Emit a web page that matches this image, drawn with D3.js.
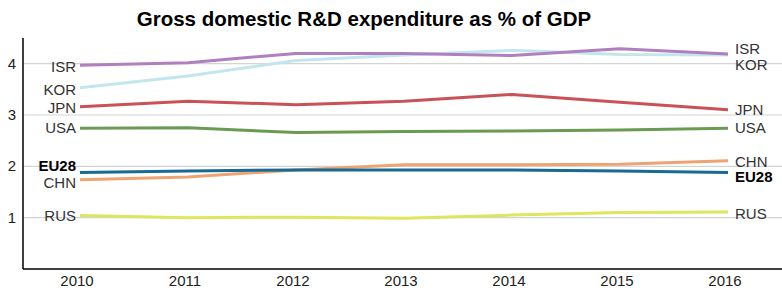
<!DOCTYPE html>
<html>
<head>
<meta charset="utf-8">
<script src="https://cdn.jsdelivr.net/npm/d3@7"></script>
<style>
  body { margin: 0; background: #fff; }
  svg text { font-family: "Liberation Sans", Arial, sans-serif; }
</style>
</head>
<body>
<div id="chart"></div>
<script>
// data
const years = [2010, 2011, 2012, 2013, 2014, 2015, 2016];
const countries = ["ISR", "KOR", "JPN", "USA", "EU28", "CHN", "RUS"];
const isr  = [3.97, 4.02, 4.20, 4.20, 4.16, 4.29, 4.19];
const kor  = [3.53, 3.76, 4.06, 4.17, 4.26, 4.18, 4.17];
const jpn  = [3.16, 3.27, 3.20, 3.27, 3.40, 3.25, 3.10];
const usa  = [2.74, 2.75, 2.66, 2.68, 2.69, 2.71, 2.74];
const eu28 = [1.88, 1.91, 1.93, 1.93, 1.93, 1.91, 1.88];
const chn  = [1.74, 1.79, 1.93, 2.03, 2.03, 2.04, 2.11];
const rus  = [1.04, 1.00, 1.01, 0.99, 1.05, 1.10, 1.11];
const yTicks = [1, 2, 3, 4];

const seriesValues = [isr, kor, jpn, usa, eu28, chn, rus];
const colors = ["#b07fc0", "#c3e6ee", "#c85257", "#6b9b53", "#186a94", "#eda472", "#dde65c"];

// label nudges so overlapping labels stay readable
const leftNudge  = { ISR: 2, KOR: 2, JPN: 1, USA: 0, EU28: -6, CHN: 3, RUS: 0 };
const rightNudge = { ISR: -5, KOR: 10, JPN: 0, USA: 0, EU28: 5, CHN: 1, RUS: 2 };

const width = 782, height = 288;
const margin = { top: 38, right: 0, bottom: 19, left: 23 };

const svg = d3.select("#chart").append("svg")
    .attr("width", width)
    .attr("height", height);

const x = d3.scalePoint()
    .domain(years)
    .range([80, 728]);

const y = d3.scaleLinear()
    .domain([0, 4.5])
    .range([height - margin.bottom, margin.top]);

// title
svg.append("text")
    .attr("x", 364)
    .attr("y", 26)
    .attr("text-anchor", "middle")
    .style("font-size", "20.5px")
    .style("font-weight", "bold")
    .attr("fill", "#000")
    .text("Gross domestic R&D expenditure as % of GDP");

// gridlines
svg.append("g")
    .selectAll("line")
    .data(yTicks)
    .join("line")
    .attr("x1", margin.left)
    .attr("x2", width)
    .attr("y1", d => y(d))
    .attr("y2", d => y(d))
    .attr("stroke", "#d4d4d4")
    .attr("stroke-width", 1.2);

// y tick labels
svg.append("g")
    .selectAll("text")
    .data(yTicks)
    .join("text")
    .attr("x", 16)
    .attr("y", d => y(d) + 5)
    .attr("text-anchor", "end")
    .style("font-size", "15px")
    .attr("fill", "#222")
    .text(d => d);

// axis lines
svg.append("line")
    .attr("x1", margin.left).attr("x2", margin.left)
    .attr("y1", margin.top).attr("y2", y(0))
    .attr("stroke", "#000").attr("stroke-width", 1.5);
svg.append("line")
    .attr("x1", margin.left).attr("x2", width)
    .attr("y1", y(0)).attr("y2", y(0))
    .attr("stroke", "#000").attr("stroke-width", 1.5);

// x tick labels
svg.append("g")
    .selectAll("text")
    .data(years)
    .join("text")
    .attr("x", d => x(d) - 3)
    .attr("y", 286)
    .attr("text-anchor", "middle")
    .style("font-size", "15px")
    .attr("fill", "#222")
    .text(d => d);

const line = d3.line()
    .x((d, i) => x(years[i]))
    .y(d => y(d));

// draw from bottom of the stack so ISR ends on top like the original
const order = [1, 6, 5, 3, 2, 4, 0];

svg.append("g")
    .selectAll("path")
    .data(order)
    .join("path")
    .attr("d", i => line(seriesValues[i]))
    .attr("fill", "none")
    .attr("stroke", i => colors[i])
    .attr("stroke-width", 3)
    .attr("stroke-linejoin", "round");

// left labels
svg.append("g")
    .selectAll("text")
    .data(countries)
    .join("text")
    .attr("x", 76)
    .attr("y", (d, i) => y(seriesValues[i][0]) + 5 + leftNudge[d])
    .attr("text-anchor", "end")
    .style("font-size", "15px")
    .style("font-weight", d => d === "EU28" ? "bold" : "normal")
    .attr("fill", d => d === "EU28" ? "#000" : "#333")
    .text(d => d);

// right labels
svg.append("g")
    .selectAll("text")
    .data(countries)
    .join("text")
    .attr("x", 735)
    .attr("y", (d, i) => y(seriesValues[i][years.length - 1]) + 5 + rightNudge[d])
    .attr("text-anchor", "start")
    .style("font-size", "15px")
    .style("font-weight", d => d === "EU28" ? "bold" : "normal")
    .attr("fill", d => d === "EU28" ? "#000" : "#333")
    .text(d => d);
</script>
</body>
</html>
